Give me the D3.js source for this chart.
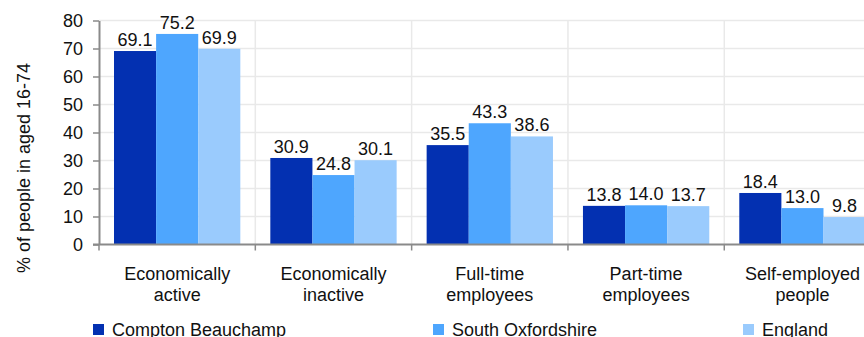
<!DOCTYPE html>
<html lang="en">
<head>
<meta charset="UTF-8">
<title>Economic activity</title>
<style>
  body { margin: 0; background: #fff; }
  svg { display: block; font-family: "Liberation Sans", Arial, sans-serif; }
</style>
</head>
<body>
<div id="chart"></div>
<script src="https://cdn.jsdelivr.net/npm/d3@7"></script>
<script>
// data
const categories = [["Economically", "active"], ["Economically", "inactive"], ["Full-time", "employees"], ["Part-time", "employees"], ["Self-employed", "people"]]
const seriesNames = ["Compton Beauchamp", "South Oxfordshire", "England"]
const compton = [69.1, 30.9, 35.5, 13.8, 18.4]
const southOxon = [75.2, 24.8, 43.3, 14.0, 13.0]
const england = [69.9, 30.1, 38.6, 13.7, 9.8]
const yTicks = [0, 10, 20, 30, 40, 50, 60, 70, 80]
const colours = ["#0330b1", "#4ea6fe", "#9acbfd"]

const W = 864, H = 337
const LEFT = 99, RIGHT = 880.6, TOP = 20.5, BOTTOM = 244.5

const svg = d3.select("#chart").append("svg")
    .attr("width", W).attr("height", H)

const catKeys = categories.map(c => c.join(" "))
const x = d3.scaleBand().domain(catKeys).range([LEFT, RIGHT]).padding(0)
const xInner = d3.scaleBand().domain(seriesNames).range([15, x.bandwidth() - 15]).padding(0)
const y = d3.scaleLinear().domain([0, 80]).range([BOTTOM, TOP])

// gridlines
const grid = svg.append("g")
grid.selectAll("line.h").data(yTicks.slice(1)).join("line")
    .attr("x1", LEFT).attr("x2", W)
    .attr("y1", d => y(d)).attr("y2", d => y(d))
    .attr("stroke", "#e9e9e9").attr("stroke-width", 1.5)
grid.selectAll("line.v").data(catKeys.slice(1)).join("line")
    .attr("x1", d => x(d)).attr("x2", d => x(d))
    .attr("y1", TOP).attr("y2", BOTTOM)
    .attr("stroke", "#e9e9e9").attr("stroke-width", 1.5)

// bars
const rows = catKeys.map((k, i) => ({ key: k, values: [compton[i], southOxon[i], england[i]] }))
const groups = svg.selectAll("g.cat").data(rows).join("g")
    .attr("transform", d => `translate(${x(d.key)},0)`)
groups.selectAll("rect").data(d => d.values.map((v, j) => ({ name: seriesNames[j], v, j }))).join("rect")
    .attr("x", d => xInner(d.name))
    .attr("width", xInner.bandwidth())
    .attr("y", d => y(d.v))
    .attr("height", d => y(0) - y(d.v))
    .attr("fill", d => colours[d.j])
groups.selectAll("text").data(d => d.values.map((v, j) => ({ name: seriesNames[j], v }))).join("text")
    .attr("x", d => xInner(d.name) + xInner.bandwidth() / 2)
    .attr("y", d => y(d.v) - 5)
    .attr("text-anchor", "middle")
    .attr("font-size", 18)
    .attr("fill", "#111")
    .text(d => d.v.toFixed(1))

// y axis
const yAxis = svg.append("g").attr("transform", `translate(${LEFT},0)`)
    .call(d3.axisLeft(y).tickValues(yTicks).tickSize(6).tickPadding(10).tickSizeOuter(0))
yAxis.select(".domain").attr("stroke", "#8a8a8a").attr("stroke-width", 2)
yAxis.selectAll(".tick line").attr("stroke", "#8a8a8a").attr("stroke-width", 1.5)
yAxis.selectAll(".tick text").attr("font-size", 18).attr("fill", "#111").attr("font-family", null)

// x axis line and boundary ticks
svg.append("line")
    .attr("x1", LEFT - 6).attr("x2", W)
    .attr("y1", BOTTOM).attr("y2", BOTTOM)
    .attr("stroke", "#8a8a8a").attr("stroke-width", 2)
svg.selectAll("line.xt").data(catKeys).join("line")
    .attr("x1", d => x(d)).attr("x2", d => x(d))
    .attr("y1", BOTTOM).attr("y2", BOTTOM + 6)
    .attr("stroke", "#8a8a8a").attr("stroke-width", 1.5)

// category labels
const catLabels = svg.selectAll("text.cat").data(categories).join("text")
    .attr("text-anchor", "middle")
    .attr("font-size", 18)
    .attr("fill", "#111")
catLabels.selectAll("tspan").data((d, i) => d.map(line => ({ line, i }))).join("tspan")
    .attr("x", d => x(catKeys[d.i]) + x.bandwidth() / 2)
    .attr("y", (d, j) => 280 + j * 20.5)
    .text(d => d.line)

// y title
svg.append("text")
    .attr("transform", "translate(30,168) rotate(-90)")
    .attr("text-anchor", "middle")
    .attr("font-size", 18)
    .attr("fill", "#111")
    .text("% of people in aged 16-74")

// legend
const legendX = [93, 433, 743]
const legend = svg.selectAll("g.leg").data(seriesNames).join("g")
    .attr("transform", (d, i) => `translate(${legendX[i]},324)`)
legend.append("rect").attr("width", 11).attr("height", 11).attr("fill", (d, i) => colours[i])
legend.append("text").attr("x", 19).attr("y", 11.5)
    .attr("font-size", 18).attr("fill", "#111")
    .text(d => d)
</script>
</body>
</html>
